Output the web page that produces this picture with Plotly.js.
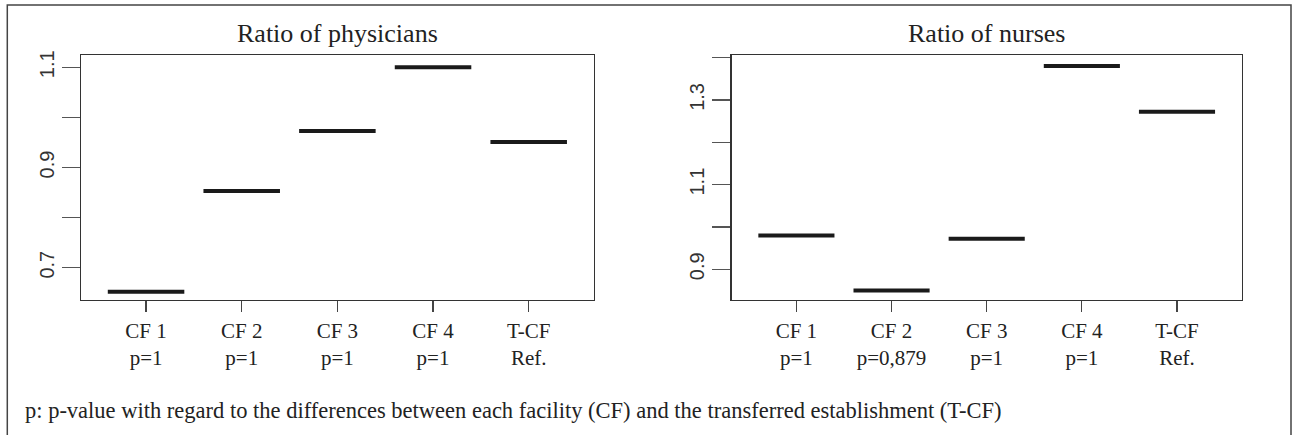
<!DOCTYPE html>
<html>
<head>
<meta charset="utf-8">
<script src="https://cdn.plot.ly/plotly-3.0.1.min.js"></script>
<style>html,body{margin:0;padding:0;background:#fff;}#chart{width:1293px;height:435px;}</style>
</head>
<body>
<div id="chart"></div>
<script>
// ---- data ----
const categories = ['CF 1', 'CF 2', 'CF 3', 'CF 4', 'T-CF'];
const physiciansPvalues = ['p=1', 'p=1', 'p=1', 'p=1', 'Ref.'];
const nursesPvalues = ['p=1', 'p=0,879', 'p=1', 'p=1', 'Ref.'];
const physiciansRatio = [0.652, 0.853, 0.973, 1.100, 0.951];
const nursesRatio = [0.980, 0.850, 0.972, 1.380, 1.272];
const physiciansTickVals = [0.7, 0.8, 0.9, 1.0, 1.1];
const physiciansTickText = ['0.7', '', '0.9', '', '1.1'];
const nursesTickVals = [0.9, 1.0, 1.1, 1.2, 1.3, 1.4];
const nursesTickText = ['0.9', '', '1.1', '', '1.3', ''];
const titles = ['Ratio of physicians', 'Ratio of nurses'];
const footnote = 'p: p-value with regard to the differences between each facility (CF) and the transferred establishment (T-CF)';

const W = 1293, H = 435;
const positions = categories.map((c, i) => i + 1);
const halfWidth = 0.4;

function segmentTrace(values, xa, ya) {
  const x = [], y = [];
  values.forEach((v, i) => {
    x.push(positions[i] - halfWidth, positions[i] + halfWidth, null);
    y.push(v, v, null);
  });
  return {x, y, xaxis: xa, yaxis: ya, type: 'scatter', mode: 'lines',
    line: {color: '#1a1a1a', width: 4}, hoverinfo: 'skip', showlegend: false};
}

const serif = 'Liberation Serif, Times New Roman, serif';
const sans = 'Liberation Sans, Arial, sans-serif';

const xRange = [0.32, 5.68];
const leftDom = [81 / W, 593.75 / W];
const rightDom = [731.7 / W, 1241.7 / W];
const yDom = [(H - 300) / H, (H - 55) / H];

function xAxis(dom, anchor, pvals) {
  return {domain: dom, anchor: anchor, range: xRange, tickmode: 'array', tickvals: positions,
    ticktext: categories.map((c, i) => c + '<br>' + pvals[i]),
    ticks: 'outside', ticklen: 11, tickwidth: 1.3, tickcolor: '#444',
    showline: true, mirror: true, linecolor: '#333', linewidth: 1.3, showgrid: false,
    zeroline: false, tickfont: {family: serif, size: 21, color: '#222'}, fixedrange: true};
}
function yAxis(dom, anchor, range, vals, texts) {
  return {domain: dom, anchor: anchor, range: range, tickmode: 'array', tickvals: vals,
    ticktext: texts, ticks: 'outside', ticklen: 18, tickwidth: 1.3, tickcolor: '#555',
    tickangle: -90, showline: true, mirror: true, linecolor: '#333', linewidth: 1.3,
    showgrid: false, zeroline: false, tickfont: {family: sans, size: 20, color: '#333'},
    fixedrange: true};
}

const data = [
  segmentTrace(physiciansRatio, 'x', 'y'),
  segmentTrace(nursesRatio, 'x2', 'y2')
];

const layout = {
  width: W, height: H, margin: {l: 0, r: 0, t: 0, b: 0},
  paper_bgcolor: '#fff', plot_bgcolor: '#fff', showlegend: false,
  xaxis: xAxis(leftDom, 'y', physiciansPvalues),
  yaxis: yAxis(yDom, 'x', [0.6355, 1.1245], physiciansTickVals, physiciansTickText),
  xaxis2: xAxis(rightDom, 'y2', nursesPvalues),
  yaxis2: yAxis(yDom, 'x2', [0.8276, 1.406], nursesTickVals, nursesTickText),
  annotations: [
    {text: titles[0], xref: 'paper', yref: 'paper', x: (leftDom[0] + leftDom[1]) / 2, y: (H - 33) / H,
     xanchor: 'center', yanchor: 'middle', showarrow: false, font: {family: serif, size: 26, color: '#222'}},
    {text: titles[1], xref: 'paper', yref: 'paper', x: (rightDom[0] + rightDom[1]) / 2, y: (H - 33) / H,
     xanchor: 'center', yanchor: 'middle', showarrow: false, font: {family: serif, size: 26, color: '#222'}},
    {text: footnote, xref: 'paper', yref: 'paper', x: 23 / W, y: (H - 410) / H,
     xanchor: 'left', yanchor: 'middle', showarrow: false, font: {family: serif, size: 22.5, color: '#222'}}
  ],
  shapes: [
    {type: 'rect', xref: 'paper', yref: 'paper', x0: 7.3 / W, x1: 1291 / W, y0: -0.2, y1: (H - 5) / H,
     line: {color: '#444', width: 1.5}, fillcolor: 'rgba(0,0,0,0)', layer: 'above'}
  ]
};

Plotly.newPlot('chart', data, layout, {staticPlot: true, displayModeBar: false});
</script>
</body>
</html>
